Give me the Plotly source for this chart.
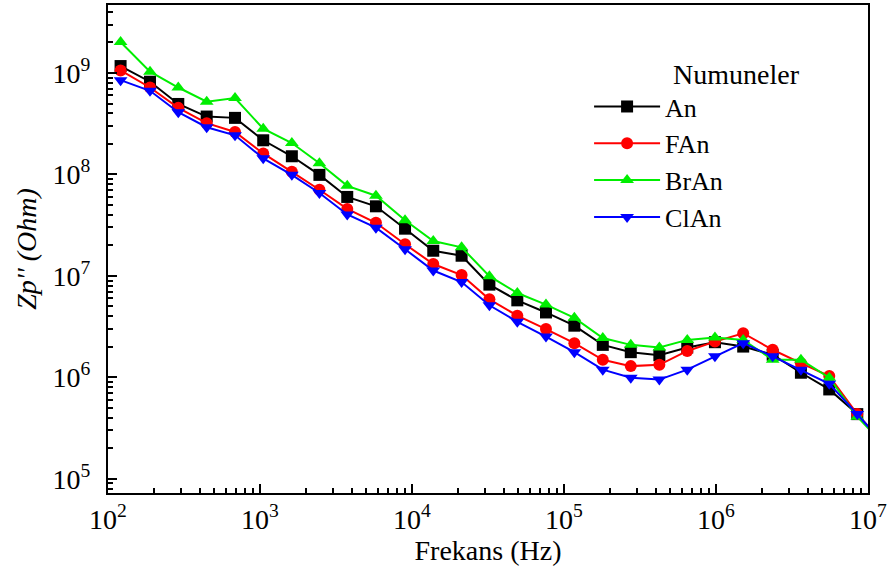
import plotly.graph_objects as go

# Measurement frequencies (Hz)
freq = [121, 189, 290, 446, 685, 1050, 1620, 2460, 3750, 5790, 9000,
        13800, 21200, 32300, 49300, 76100, 117000, 180000, 275000, 424000,
        647000, 984000, 1.51e6, 2.36e6, 3.62e6, 5.56e6, 8.5e6, 1.31e7]

# Imaginary impedance Zp'' (Ohm) for each sample
an = [1.17e9, 8.2e8, 4.95e8, 3.72e8, 3.61e8, 2.17e8, 1.51e8, 9.9e7, 6.0e7,
      4.85e7, 2.92e7, 1.77e7, 1.58e7, 8.2e6, 5.74e6, 4.36e6, 3.23e6, 2.09e6,
      1.77e6, 1.65e6, 1.97e6, 2.22e6, 2.01e6, 1.67e6, 1.11e6, 7.6e5, 4.34e5,
      2.07e5]
fan = [1.06e9, 7.19e8, 4.53e8, 3.2e8, 2.62e8, 1.61e8, 1.06e8, 7.06e7, 4.57e7,
       3.34e7, 2.05e7, 1.31e7, 1.02e7, 5.87e6, 4.05e6, 2.99e6, 2.17e6, 1.49e6,
       1.29e6, 1.33e6, 1.82e6, 2.25e6, 2.72e6, 1.87e6, 1.38e6, 1.03e6, 4.34e5,
       2.07e5]
bran = [2.02e9, 1.03e9, 7.19e8, 5.21e8, 5.66e8, 2.82e8, 2.04e8, 1.29e8, 7.72e7,
        6.17e7, 3.54e7, 2.21e7, 1.91e7, 9.93e6, 6.78e6, 5.21e6, 3.86e6, 2.44e6,
        2.09e6, 1.97e6, 2.34e6, 2.47e6, 2.34e6, 1.49e6, 1.49e6, 9.9e5, 4.09e5,
        2.07e5]
clan = [8.5e8, 6.67e8, 4.1e8, 2.92e8, 2.43e8, 1.44e8, 9.9e7, 6.56e7, 4.03e7,
        2.99e7, 1.83e7, 1.13e7, 8.69e6, 5.13e6, 3.53e6, 2.52e6, 1.77e6, 1.19e6,
        9.9e5, 9.5e5, 1.19e6, 1.61e6, 2.17e6, 1.61e6, 1.19e6, 8.65e5, 4.34e5,
        2.07e5]

series_names = ["An", "FAn", "BrAn", "ClAn"]
series_values = [an, fan, bran, clan]
series_colors = ["#000000", "#ff0000", "#00ee00", "#0000ff"]
series_symbols = ["square", "circle", "triangle-up", "triangle-down"]

x_exponents = [2, 3, 4, 5, 6, 7]
y_exponents = [5, 6, 7, 8, 9]

FONT = "Liberation Serif"

fig = go.Figure()
for name, vals, color, sym in zip(series_names, series_values,
                                  series_colors, series_symbols):
    fig.add_trace(go.Scatter(
        x=freq, y=vals, name=name, mode="lines+markers",
        line=dict(color=color, width=2),
        marker=dict(symbol=sym, size=12, color=color,
                    line=dict(width=0)),
    ))


def power_labels(exps):
    return [f"10<sup>{e}</sup>" for e in exps]


def minor_vals(lo, hi):
    return [k * 10 ** e for e in range(lo, hi) for k in range(2, 10)]


axis_common = dict(
    type="log", showgrid=False, zeroline=False,
    showline=True, linewidth=2, linecolor="black", mirror=True,
    ticks="inside", ticklen=9, tickwidth=1.5, tickcolor="black",
    tickfont=dict(family=FONT, size=28, color="black"),
)

fig.update_xaxes(
    **axis_common,
    range=[2, 7],
    tickmode="array",
    tickvals=[10 ** e for e in x_exponents],
    ticktext=power_labels(x_exponents),
    minor=dict(tickmode="array", tickvals=minor_vals(2, 7),
               ticks="inside", ticklen=5, tickwidth=1.5, tickcolor="black"),
    title=dict(text="Frekans (Hz)",
               font=dict(family=FONT, size=28, color="black"),
               standoff=4),
)
fig.update_yaxes(
    **axis_common,
    range=[4.86, 9.67],
    tickmode="array",
    tickvals=[10 ** e for e in y_exponents],
    ticktext=power_labels(y_exponents),
    ticklabelstandoff=10,
    minor=dict(tickmode="array", tickvals=minor_vals(4, 10),
               ticks="inside", ticklen=5, tickwidth=1.5, tickcolor="black"),
    title=dict(text="<i>Zp'' (Ohm)</i>",
               font=dict(family=FONT, size=28, color="black"),
               standoff=8),
)

fig.add_annotation(
    text="Numuneler", xref="paper", yref="paper",
    x=(736 - 108) / 760, y=1 - (73 - 3) / 490,
    xanchor="center", yanchor="middle", showarrow=False,
    font=dict(family=FONT, size=28, color="black"),
)

fig.update_layout(
    width=890, height=581,
    margin=dict(l=108, r=22, t=3, b=88),
    paper_bgcolor="white", plot_bgcolor="white",
    font=dict(family=FONT, color="black"),
    showlegend=True,
    legend=dict(
        x=0.633, y=0.84, xanchor="left", yanchor="top",
        bgcolor="rgba(0,0,0,0)", borderwidth=0,
        font=dict(family=FONT, size=26, color="black"),
        itemwidth=66, tracegroupgap=0,
    ),
)

fig.write_html("out.html")
